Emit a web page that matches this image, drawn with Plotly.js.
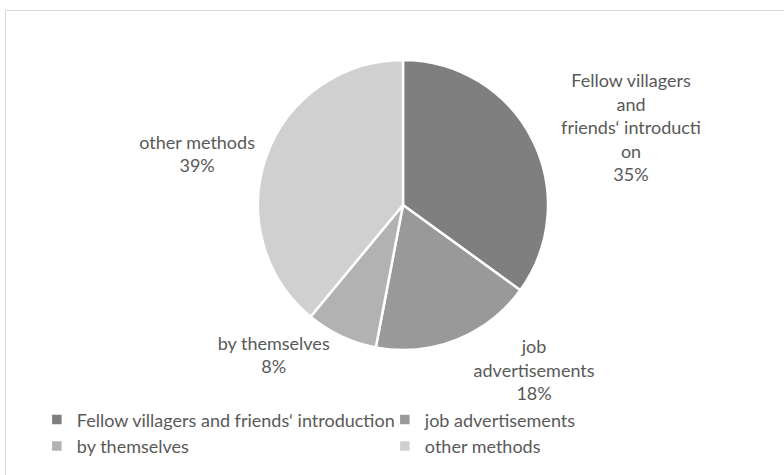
<!DOCTYPE html>
<html>
<head>
<meta charset="utf-8">
<script src="https://cdn.plot.ly/plotly-3.0.1.min.js"></script>
<style>
html,body{margin:0;padding:0;background:#fff;}
#frame{position:absolute;left:5px;top:10px;width:790px;height:480px;border:1px solid #d9d9d9;box-sizing:border-box;pointer-events:none;z-index:5;}
#chart{position:absolute;left:0;top:0;width:784px;height:475px;}
</style>
</head>
<body>
<div id="chart"></div>
<div id="frame"></div>
<script>
const categories = ["Fellow villagers and friends\u2018 introduction", "job advertisements", "by themselves", "other methods"];
const wrappedLabels = ["Fellow villagers<br>and<br>friends\u2018 introducti<br>on", "job<br>advertisements", "by themselves", "other methods"];
const shares = [35, 18, 8, 39];
const colors = ["#7f7f7f", "#999999", "#b2b2b2", "#d0d0d0"];

const FONT = "Lato, 'Open Sans', sans-serif";

const trace = {
  type: "pie",
  labels: categories,
  values: shares,
  text: wrappedLabels,
  sort: false,
  direction: "clockwise",
  rotation: 0,
  marker: {colors: colors, line: {color: "#ffffff", width: 2.5}},
  textposition: "outside",
  texttemplate: "%{text}<br>%{percent:.0%}",
  outsidetextfont: {family: FONT, size: 18, color: "#595959"},
  hoverinfo: "none",
  automargin: false,
  domain: {x: [0.329, 0.699], y: [0.263, 0.874]}
};

const layout = {
  width: 784, height: 475,
  margin: {l: 0, r: 0, t: 0, b: 0},
  paper_bgcolor: "#ffffff",
  showlegend: true,
  font: {family: FONT, size: 18, color: "#595959"},
  legend: {
    orientation: "h",
    x: 0.047, y: 0.155, xanchor: "left", yanchor: "top",
    entrywidth: 303, entrywidthmode: "pixels",
    tracegroupgap: 0,
    itemwidth: 30,
    font: {family: FONT, size: 18, color: "#595959"}
  }
};

Plotly.newPlot("chart", [trace], layout, {displayModeBar: false, staticPlot: true});
</script>
</body>
</html>
